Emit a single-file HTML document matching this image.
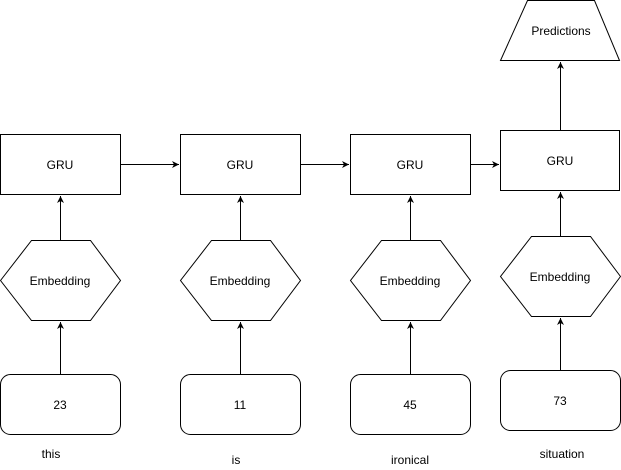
<!DOCTYPE html>
<html><head><meta charset="utf-8"><style>
html,body{margin:0;padding:0;background:#fff;}
svg{display:block;}
text{font-family:"Liberation Sans",sans-serif;font-size:12px;fill:#000;}
</style></head><body>
<svg width="621" height="470" viewBox="0 0 621 470" xmlns="http://www.w3.org/2000/svg">
<defs><marker id="a" markerWidth="8" markerHeight="8" refX="7" refY="4" orient="auto" markerUnits="userSpaceOnUse"><path d="M0,0.5 L7,4 L0,7.5 L2,4 Z" fill="#000"/></marker></defs>
<g fill="#fff" stroke="#000" stroke-width="1">
<path d="M527.5,0.5 L594.5,0.5 L619.5,60.5 L500.5,60.5 Z"/>
<rect x="0.5" y="134.5" width="120" height="60"/>
<rect x="180.5" y="134.5" width="120" height="60"/>
<rect x="350.5" y="134.5" width="120" height="60"/>
<rect x="500.5" y="130.5" width="119" height="60"/>
<path d="M31.5,240.5 L90.5,240.5 L120.5,280.5 L90.5,320.5 L31.5,320.5 L0.5,280.5 Z"/>
<path d="M211.5,240.5 L270.5,240.5 L300.5,280.5 L270.5,320.5 L211.5,320.5 L180.5,280.5 Z"/>
<path d="M381.5,240.5 L440.5,240.5 L470.5,280.5 L440.5,320.5 L381.5,320.5 L350.5,280.5 Z"/>
<path d="M531.5,236.5 L590.5,236.5 L620.5,276.5 L590.5,316.5 L531.5,316.5 L500.5,276.5 Z"/>
<rect x="0.5" y="374.5" width="120" height="60" rx="10"/>
<rect x="180.5" y="374.5" width="120" height="60" rx="10"/>
<rect x="350.5" y="374.5" width="120" height="60" rx="10"/>
<rect x="500.5" y="370.5" width="120" height="60" rx="10"/>
</g>
<g stroke="#000" stroke-width="1" fill="none" marker-end="url(#a)">
<line x1="60.5" y1="374" x2="60.5" y2="322"/>
<line x1="60.5" y1="240" x2="60.5" y2="196"/>
<line x1="240.5" y1="374" x2="240.5" y2="322"/>
<line x1="240.5" y1="240" x2="240.5" y2="196"/>
<line x1="410.5" y1="374" x2="410.5" y2="322"/>
<line x1="410.5" y1="240" x2="410.5" y2="196"/>
<line x1="560.5" y1="370" x2="560.5" y2="318"/>
<line x1="560.5" y1="236" x2="560.5" y2="192"/>
<line x1="560.5" y1="130" x2="560.5" y2="62"/>
<line x1="121" y1="164.5" x2="179" y2="164.5"/>
<line x1="301" y1="164.5" x2="349" y2="164.5"/>
<line x1="471" y1="164.5" x2="499" y2="164.5"/>
</g>
<g text-anchor="middle">
<text x="561" y="35">Predictions</text>
<text x="60" y="169">GRU</text>
<text x="240" y="169">GRU</text>
<text x="410" y="169">GRU</text>
<text x="560" y="165">GRU</text>
<text x="60" y="285">Embedding</text>
<text x="240" y="285">Embedding</text>
<text x="410" y="285">Embedding</text>
<text x="560" y="281">Embedding</text>
<text x="60" y="409">23</text>
<text x="240" y="409">11</text>
<text x="410" y="409">45</text>
<text x="560" y="405">73</text>
<text x="51" y="458">this</text>
<text x="236" y="464">is</text>
<text x="410" y="464">ironical</text>
<text x="562" y="458">situation</text>
</g>
</svg>
</body></html>
